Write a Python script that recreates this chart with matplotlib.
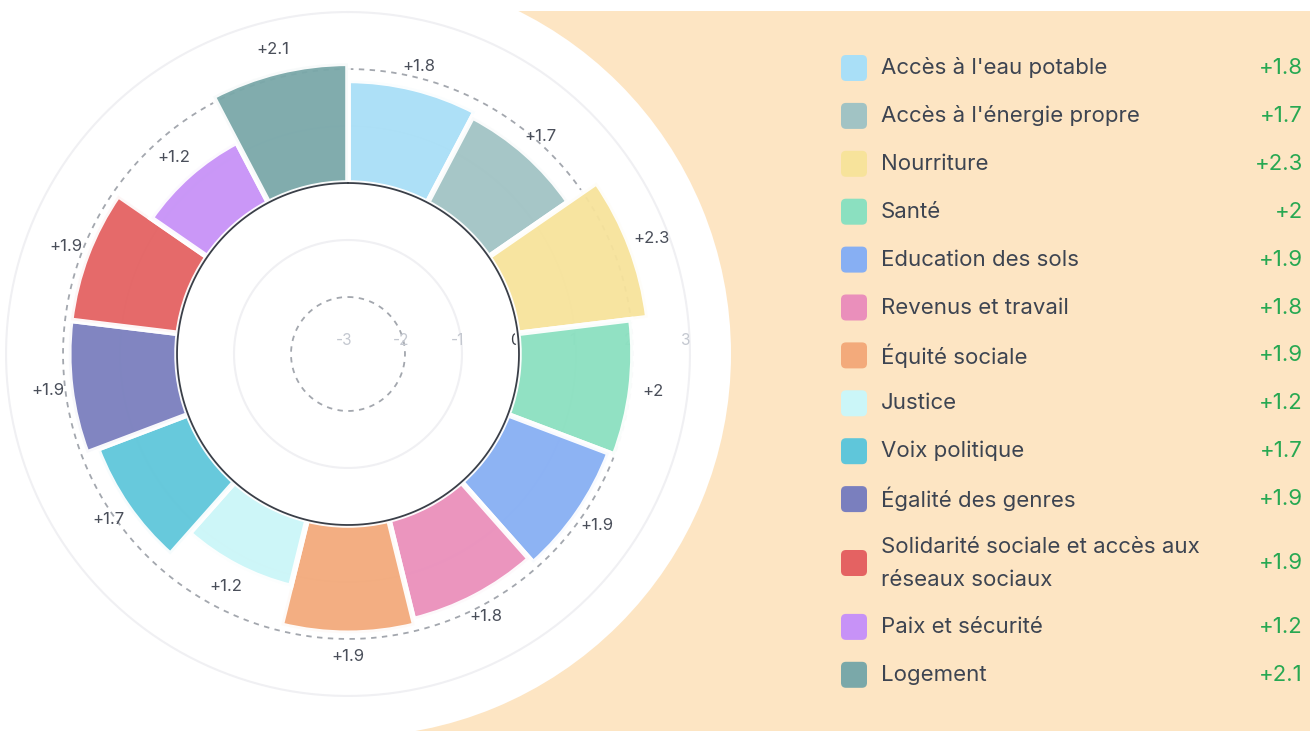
import numpy as np
import matplotlib
matplotlib.use("Agg")
import matplotlib.pyplot as plt
from matplotlib.patches import Rectangle, FancyBboxPatch, Circle

plt.rcParams['font.family'] = ['Inter', 'DejaVu Sans']

# data
categories = [
    "Accès à l'eau potable", "Accès à l'énergie propre", "Nourriture", "Santé",
    "Education des sols", "Revenus et travail", "Équité sociale", "Justice",
    "Voix politique", "Égalité des genres",
    "Solidarité sociale et accès aux\nréseaux sociaux",
    "Paix et sécurité", "Logement",
]
values = [1.8, 1.7, 2.3, 2.0, 1.9, 1.8, 1.9, 1.2, 1.7, 1.9, 1.9, 1.2, 2.1]
colors = ["#a9dff7", "#a1c3c4", "#f7e39b", "#8be0c0", "#87aff3", "#ea8fbb",
          "#f3aa7b", "#cbf6f8", "#5fc6da", "#7a7fbe", "#e46262", "#c792f7",
          "#7aa8a9"]
r_ticks = [-3, -2, -1, 0, 1, 2, 3]

W, H = 1310, 731
fig = plt.figure(figsize=(W / 100, H / 100), dpi=100, facecolor="white")

cx, cy, rad = 348, 354, 383

# background + legend axes in pixel coordinates
bg = fig.add_axes([0, 0, 1, 1], zorder=0)
bg.set_xlim(0, W)
bg.set_ylim(H, 0)
bg.axis("off")
bg.add_patch(Rectangle((0, 11), W, H - 11, color="#fde5c3", lw=0))
bg.add_patch(Rectangle((0, 0), cx, H, color="white", lw=0))

# polar chart
ax = fig.add_axes([(cx - rad) / W, (H - cy - rad) / H, 2 * rad / W, 2 * rad / H],
                  projection="polar", zorder=1)
ax.set_facecolor("white")
ax.set_theta_zero_location("N")
ax.set_theta_direction(-1)
ax.set_rlim(-3, 3.72)
ax.set_xticks([])
ax.set_yticks([])
ax.grid(False)
ax.spines["polar"].set_visible(False)

n = len(values)
step = 2 * np.pi / n
theta = (np.arange(n) + 0.5) * step
circ = np.linspace(0, 2 * np.pi, 400)

# rings
for r in [-1, 1, 3]:
    ax.plot(circ, np.full_like(circ, r), color="#f0f0f3", lw=1.5, zorder=1)
for r in [-2, 2]:
    ax.plot(circ, np.full_like(circ, r), color="#a3a7ae", lw=1.3,
            ls=(0, (3, 3)), zorder=1)

# radial tick labels
for t in r_ticks:
    ax.annotate(str(t), (np.pi / 2, t), xytext=(-4, 14), textcoords="offset pixels",
                ha="center", va="center", fontsize=11,
                color="#3a3f48" if t == 0 else "#c4c8d0", zorder=1)

ax.bar(theta, values, width=step, bottom=0, color=colors, alpha=0.95,
       edgecolor="white", linewidth=4, zorder=2)
ax.plot(circ, np.zeros_like(circ), color="#3a3f48", lw=1.3, zorder=3)

for th, v in zip(theta, values):
    ax.text(th, v + 0.4, f"+{v:g}", ha="center", va="center",
            fontsize=12, color="#4a4f5a", zorder=4)

# legend
for i, (cat, v, c) in enumerate(zip(categories, values, colors)):
    yy = 68 + 47.9 * i + (16 if i == 10 else 0) + (32 if i > 10 else 0)
    bg.add_patch(FancyBboxPatch((841, yy - 13), 26, 26,
                                boxstyle="round,pad=0,rounding_size=5",
                                fc=c, ec="none"))
    lines = cat.split("\n")
    if len(lines) == 1:
        bg.text(881, yy, cat, ha="left", va="center", fontsize=16, color="#3d4451")
    else:
        bg.text(881, yy - 16, lines[0], ha="left", va="center", fontsize=16, color="#3d4451")
        bg.text(881, yy + 17, lines[1], ha="left", va="center", fontsize=16, color="#3d4451")
    bg.text(1303, yy, f"+{v:g}", ha="right", va="center", fontsize=16, color="#27a852")

fig.savefig("out.png", dpi=100, facecolor="white")
